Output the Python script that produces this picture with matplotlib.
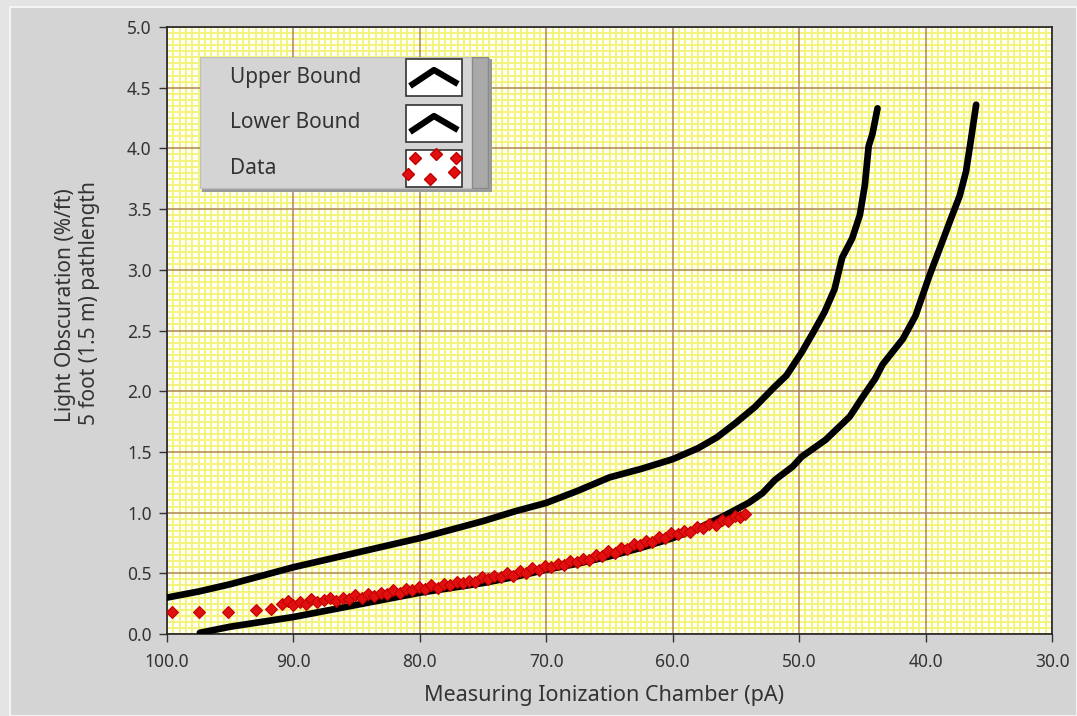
import numpy as np
import matplotlib
matplotlib.use("Agg")
import matplotlib.pyplot as plt
from matplotlib.ticker import MultipleLocator, FormatStrFormatter
from matplotlib.patches import Rectangle

plt.rcParams['font.family'] = ['Noto Sans', 'DejaVu Sans']

# upper bound curve (pA, %/ft)
upper_x = [100.0, 97.5, 95.0, 92.5, 90.0, 87.5, 85.0, 82.5, 80.0, 77.5, 75.0,
           72.5, 70.0, 67.5, 65.0, 62.5, 60.0, 58.0, 56.5, 55.0, 53.5, 52.0,
           51.0, 49.8, 48.8, 48.0, 47.2, 46.6, 45.8, 45.2, 44.8, 44.5, 44.2, 43.8]
upper_y = [0.30, 0.35, 0.41, 0.48, 0.55, 0.61, 0.67, 0.73, 0.79, 0.86, 0.93,
           1.01, 1.08, 1.18, 1.29, 1.36, 1.44, 1.53, 1.62, 1.74, 1.87, 2.03,
           2.13, 2.32, 2.50, 2.65, 2.84, 3.10, 3.26, 3.45, 3.70, 4.02, 4.12, 4.33]

# lower bound curve
lower_x = [97.4, 95.0, 92.5, 90.0, 87.5, 85.0, 82.5, 80.0, 77.5, 75.0, 72.5,
           70.0, 67.5, 65.0, 62.5, 60.0, 58.0, 56.0, 54.0, 52.9, 51.9, 50.5,
           49.8, 47.9, 46.0, 44.8, 44.0, 43.4, 41.8, 40.8, 39.7, 38.9, 38.0,
           37.3, 36.8, 36.4, 36.0]
lower_y = [0.01, 0.06, 0.10, 0.14, 0.19, 0.24, 0.29, 0.34, 0.38, 0.42, 0.47,
           0.53, 0.58, 0.64, 0.71, 0.79, 0.87, 0.97, 1.08, 1.16, 1.27, 1.38,
           1.46, 1.60, 1.79, 1.98, 2.10, 2.22, 2.43, 2.62, 2.95, 3.17, 3.42,
           3.61, 3.81, 4.08, 4.36]

# measured data
data_x = [99.6, 97.5, 95.2, 93.0, 91.8, 90.9,
          90.4, 90.0, 89.5, 89.0, 88.6, 88.1, 87.6, 87.1, 86.6, 86.1, 85.6,
          85.1, 84.6, 84.1, 83.6, 83.1, 82.6, 82.1, 81.6, 81.1, 80.6, 80.1,
          79.6, 79.1, 78.6, 78.1, 77.6, 77.1, 76.6, 76.1, 75.6, 75.1, 74.6,
          74.1, 73.6, 73.1, 72.6, 72.1, 71.6, 71.1, 70.6, 70.1, 69.6, 69.1,
          68.6, 68.1, 67.6, 67.1, 66.6, 66.1, 65.6, 65.1, 64.6, 64.1, 63.6,
          63.1, 62.6, 62.1, 61.6, 61.1, 60.6, 60.1, 59.6, 59.1, 58.6, 58.1,
          57.6, 57.1, 56.6, 56.1, 55.6, 55.1, 54.7, 54.3]
data_y = [0.18, 0.18, 0.18, 0.20, 0.21, 0.25,
          0.27, 0.24, 0.26, 0.25, 0.29, 0.26, 0.28, 0.30, 0.27, 0.30, 0.29,
          0.32, 0.30, 0.33, 0.31, 0.34, 0.33, 0.36, 0.34, 0.37, 0.36, 0.39,
          0.37, 0.40, 0.38, 0.41, 0.40, 0.43, 0.42, 0.44, 0.43, 0.47, 0.45,
          0.48, 0.47, 0.50, 0.48, 0.52, 0.50, 0.54, 0.53, 0.56, 0.55, 0.58,
          0.57, 0.60, 0.59, 0.62, 0.61, 0.65, 0.64, 0.68, 0.67, 0.71, 0.70,
          0.74, 0.73, 0.77, 0.76, 0.80, 0.79, 0.83, 0.82, 0.85, 0.84, 0.88,
          0.87, 0.91, 0.90, 0.94, 0.93, 0.97, 0.96, 0.99]

series_labels = ["Upper Bound", "Lower Bound", "Data"]

W, H = 1077, 716
fig = plt.figure(figsize=(W / 100, H / 100), dpi=100)
fig.patch.set_facecolor('#e4e4e4')
fig.patches.append(Rectangle((10 / W, 0), 1 - 10 / W, 1 - 7 / H, transform=fig.transFigure,
                             facecolor='#d4d4d4', edgecolor='#f4f4f4', lw=1.5, zorder=-5))

ax = fig.add_axes([167 / W, 1 - 634 / H, (1052 - 167) / W, (634 - 27) / H])
ax.set_facecolor('#fffff8')

ax.plot(upper_x, upper_y, color='black', lw=4.8, solid_capstyle='round', zorder=3)
ax.plot(lower_x, lower_y, color='black', lw=4.8, solid_capstyle='round', zorder=3)
ax.plot(data_x, data_y, ls='none', marker='D', ms=6.5, color='#e01010',
        mec='#c40000', mew=0.8, zorder=4)

ax.set_xlim(100, 30)
ax.set_ylim(0, 5)
ax.xaxis.set_major_locator(MultipleLocator(10))
ax.xaxis.set_minor_locator(MultipleLocator(0.5))
ax.yaxis.set_major_locator(MultipleLocator(0.5))
ax.yaxis.set_minor_locator(MultipleLocator(0.05))
ax.xaxis.set_major_formatter(FormatStrFormatter('%.1f'))
ax.yaxis.set_major_formatter(FormatStrFormatter('%.1f'))

# fine yellow mesh, then the tan major lines on top of it
ax.grid(which='minor', color='#f3f37c', lw=1.4)
ax.set_axisbelow(True)
for xv in ax.get_xticks():
    ax.axvline(xv, color='#ad8552', lw=1.1, zorder=1.5)
for yv in ax.get_yticks():
    ax.axhline(yv, color='#ad8552', lw=1.1, zorder=1.5)

ax.tick_params(which='minor', length=0)
ax.tick_params(which='major', length=6, width=1, color='#333333',
               labelsize=12.5, labelcolor='#333333')
ax.tick_params(axis='x', pad=8)
ax.tick_params(axis='y', pad=5)
for s in ax.spines.values():
    s.set_color('#222222')
    s.set_linewidth(1.2)

fig.text(604 / W, 1 - 696 / H, "Measuring Ionization Chamber (pA)",
         ha='center', va='center', fontsize=15.5, color='#333333')
fig.text(66 / W, 1 - 305 / H, "Light Obscuration (%/ft)",
         ha='center', va='center', rotation=90, fontsize=15, color='#333333')
fig.text(89 / W, 1 - 303 / H, "5 foot (1.5 m) pathlength",
         ha='center', va='center', rotation=90, fontsize=15, color='#333333')

# LabVIEW style plot legend
lg = fig.add_axes([200 / W, 1 - 192 / H, 292 / W, 135 / H])
lg.set_xlim(0, 292)
lg.set_ylim(135, 0)
lg.axis('off')
lg.add_patch(Rectangle((2, 2), 290, 133, facecolor='#9a9a9a', edgecolor='none'))
lg.add_patch(Rectangle((0, 0), 288, 131, facecolor='#d4d4d4', edgecolor='#c0c0c0', lw=1))
lg.add_patch(Rectangle((272, 0), 16, 131, facecolor='#a9a9a9', edgecolor='#8a8a8a', lw=1))
rows = [20, 66, 111]
for i, (lab, yc) in enumerate(zip(series_labels, rows)):
    lg.text(30, yc, lab, ha='left', va='center', fontsize=15, color='#333333')
    lg.add_patch(Rectangle((206, yc - 18), 56, 37, facecolor='white',
                           edgecolor='#333333', lw=1.2))
    if i < 2:
        lg.plot([210, 234, 258], [yc + 9, yc - 7, yc + 7], color='black', lw=4.5,
                solid_capstyle='butt')
    else:
        lg.plot([215, 236, 256, 208, 230, 254], [yc - 10, yc - 14, yc - 10, yc + 6, yc + 11, yc + 4],
                ls='none', marker='D', ms=6, color='#e01010', mec='#c00000')

fig.savefig("out.png", dpi=100, facecolor=fig.get_facecolor())
